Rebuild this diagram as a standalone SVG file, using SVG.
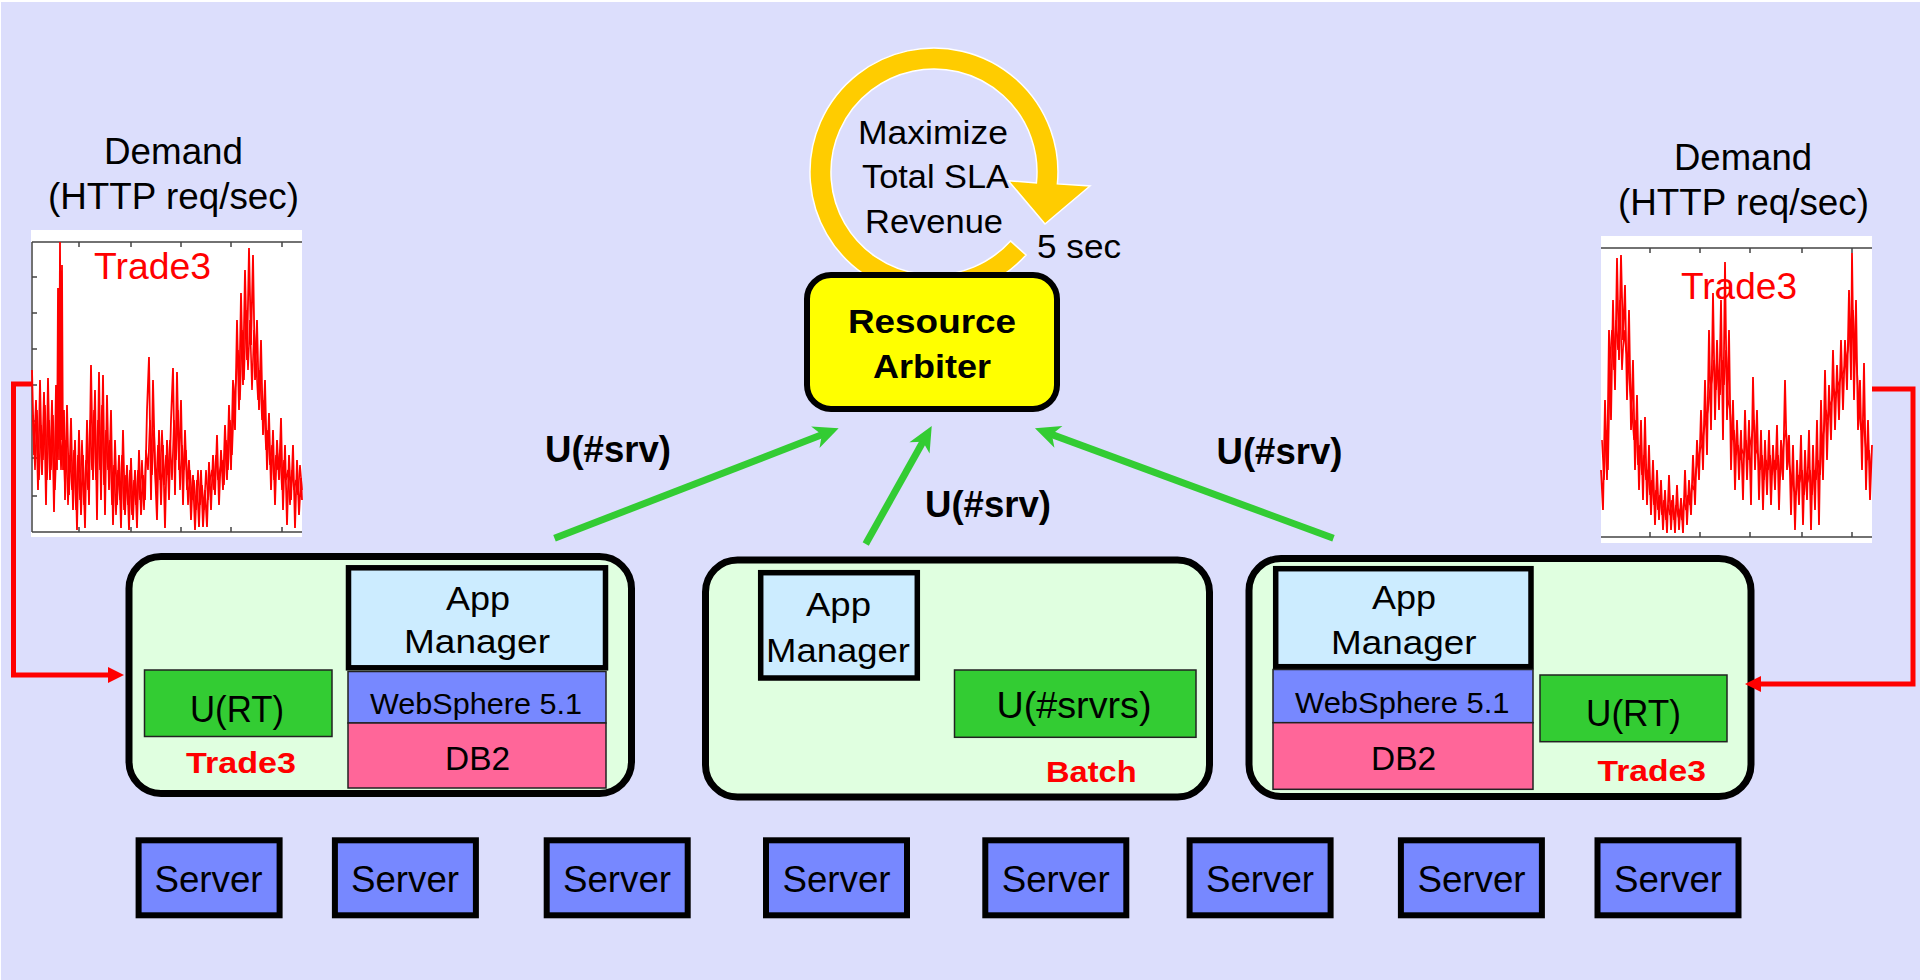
<svg xmlns="http://www.w3.org/2000/svg" width="1920" height="980" viewBox="0 0 1920 980">
  <style>
    .t { font-family: "Liberation Sans", Arial, sans-serif; fill: #000; }
    .b { font-weight: bold; }
    .red { fill: #FF0000; }
    .app { fill: #E0FFE0; stroke: #000; stroke-width: 7; }
    .mgr { fill: #CCECFF; stroke: #000; stroke-width: 5.5; }
    .ws { fill: #7788FF; stroke: #222; stroke-width: 1.5; }
    .db { fill: #FF6699; stroke: #222; stroke-width: 1.5; }
    .u { fill: #33CC33; stroke: #222; stroke-width: 1.5; }
    .srv { fill: #7788FF; stroke: #000; stroke-width: 6; }
    .plot { fill: #FFFFFF; }
    .axis { fill: none; stroke: #444; stroke-width: 1.5; }
    .data { fill: none; stroke: #FF0000; stroke-width: 1.8; stroke-linejoin: miter; }
    .data2 { fill: none; stroke: #FF0000; stroke-width: 1.6; stroke-linejoin: miter; }
    .feed { fill: none; stroke: #FF0000; stroke-width: 5; }
    .util { fill: none; stroke: #33CC33; stroke-width: 7; }
  </style>
  <defs>
    <marker id="greenHead" markerUnits="userSpaceOnUse" markerWidth="32" markerHeight="30" viewBox="-2 -14 32 28" refX="11" refY="0" orient="auto">
      <path d="M0,-11.5 L25,0 L0,11.5 L7,0 Z" fill="#33CC33"/>
    </marker>
    <marker id="redHead" markerUnits="userSpaceOnUse" markerWidth="20" markerHeight="20" viewBox="-2 -10 20 20" refX="8" refY="0" orient="auto">
      <path d="M0,-8 L16,0 L0,8 Z" fill="#FF0000"/>
    </marker>
  </defs>

  <!-- slide background -->
  <rect x="0" y="0" width="1920" height="980" fill="#FFFFFF"/>
  <rect x="1" y="2" width="1919" height="978" fill="#DCDEFC"/>

  <!-- demand chart, left application -->
  <g id="demand-left">
    <text class="t" x="104" y="164" font-size="36" textLength="139" lengthAdjust="spacingAndGlyphs">Demand</text>
    <text class="t" x="48" y="209" font-size="36" textLength="251" lengthAdjust="spacingAndGlyphs">(HTTP req/sec)</text>
    <rect class="plot" x="31" y="230" width="271" height="307"/>
    <path class="axis" d="M32,242 H302 M32,532 H302 M32,242 V532 M79,242 v5 M131,242 v5 M181,242 v5 M231,242 v5 M282,242 v5 M79,532 v-5 M131,532 v-5 M181,532 v-5 M231,532 v-5 M282,532 v-5 M32,277 h5 M32,313 h5 M32,349 h5 M32,385 h5 M32,421 h5 M32,458 h5 M32,496 h5"/>
    <polyline class="data" points="32,370 34,455 36,400 38,490 40,380 42,475 44,392 46,505 48,378 50,480 52,400 54,512 56,385 57,470 58,288 59,460 60,242 61,440 62,265 63,470 64,410 65,500 67,405 69,495 71,418 73,510 75,440 77,530 79,430 81,515 83,455 85,528 87,420 89,505 91,365 93,480 95,390 97,520 99,372 101,500 103,375 105,515 107,395 109,490 111,410 113,525 115,440 117,505 119,455 121,528 123,430 125,515 127,465 129,530 131,458 133,520 135,470 137,528 139,450 141,515 143,475 145,500 147,410 149,357 151,500 153,380 155,470 157,520 159,430 161,505 163,445 165,528 167,440 169,500 171,420 173,368 175,495 177,372 179,470 181,400 183,505 185,430 187,490 189,460 191,520 193,475 195,530 197,480 199,527 201,470 203,527 205,490 207,527 209,462 211,510 213,455 215,495 217,435 219,505 221,450 223,490 225,425 227,480 229,405 231,470 233,380 235,430 237,320 239,410 241,293 243,385 245,270 247,360 249,248 251,345 253,255 255,380 257,320 259,410 261,340 263,435 265,380 267,470 269,413 271,490 273,430 275,505 277,440 279,480 281,418 283,510 285,445 287,525 289,455 291,500 293,445 295,528 297,460 299,515 301,478 302,500"/>
    <polyline class="data2" points="33,415 35,470 37,410 39,480 41,425 43,460 45,405 47,480 49,420 51,470 53,415 55,490 57,430 59,395 61,470 63,420 65,490 66,440 68,505 70,455 72,490 74,450 76,510 78,455 80,500 82,440 84,505 86,460 88,490 90,420 92,470 94,410 96,480 98,420 100,470 102,405 104,485 106,430 108,470 110,440 112,505 114,465 116,515 118,470 120,500 122,455 124,510 126,475 128,505 130,470 132,515 134,480 136,505 138,470 140,500 142,460 144,510 146,450 148,470 150,420 152,475 154,430 156,490 158,445 160,480 162,430 164,485 166,455 168,475 170,440 172,480 174,420 176,460 178,410 180,490 182,445 184,470 186,450 188,505 190,470 192,500 194,480 196,510 198,470 200,505 202,485 204,510 206,470 208,500 210,480 212,470 214,490 216,455 218,480 220,470 222,460 224,485 226,440 228,470 230,420 232,455 234,400 236,380 238,350 240,400 242,330 244,380 246,310 248,370 250,320 252,390 254,330 256,360 258,400 260,370 262,420 264,400 266,450 268,430 270,465 272,445 274,480 276,455 278,470 280,450 282,490 284,460 286,480 288,470 290,505 292,470 294,490 296,480 298,495 300,465 302,490"/>
    <text class="t red" x="94" y="279" font-size="36" textLength="117" lengthAdjust="spacingAndGlyphs">Trade3</text>
  </g>

  <!-- demand chart, right application -->
  <g id="demand-right">
    <text class="t" x="1674" y="170" font-size="36" textLength="138" lengthAdjust="spacingAndGlyphs">Demand</text>
    <text class="t" x="1618" y="215" font-size="36" textLength="251" lengthAdjust="spacingAndGlyphs">(HTTP req/sec)</text>
    <rect class="plot" x="1601" y="236" width="271" height="307"/>
    <path class="axis" d="M1601,248 H1872 M1601,537 H1872 M1650,248 v5 M1700,248 v5 M1750,248 v5 M1802,248 v5 M1852,248 v5 M1650,537 v-5 M1700,537 v-5 M1750,537 v-5 M1802,537 v-5 M1852,537 v-5"/>
    <polyline class="data" points="1601,470 1603,510 1605,400 1607,480 1609,330 1611,420 1613,300 1615,390 1617,258 1619,360 1621,255 1623,340 1625,285 1627,400 1629,310 1631,430 1633,360 1635,470 1637,395 1639,490 1641,420 1643,500 1645,417 1647,505 1649,445 1651,515 1653,460 1655,525 1657,470 1659,520 1661,480 1663,530 1665,490 1667,533 1669,475 1671,530 1673,495 1675,533 1677,485 1679,530 1681,498 1683,533 1685,470 1687,525 1689,480 1691,515 1693,455 1695,505 1697,440 1699,480 1701,410 1703,470 1705,380 1707,455 1709,330 1711,430 1713,293 1715,420 1717,340 1719,410 1721,300 1723,440 1725,262 1727,420 1729,330 1731,470 1733,400 1735,490 1737,420 1739,480 1741,430 1743,500 1745,410 1747,480 1749,420 1751,505 1753,377 1755,470 1757,410 1759,500 1761,430 1763,510 1765,440 1767,495 1769,430 1771,505 1773,445 1775,490 1777,425 1779,510 1781,440 1783,480 1785,380 1787,470 1789,435 1791,515 1793,445 1795,530 1797,460 1799,505 1801,435 1803,525 1805,450 1807,500 1809,430 1811,530 1813,445 1815,510 1817,420 1819,525 1821,400 1823,480 1825,370 1827,460 1829,385 1831,440 1833,350 1835,430 1837,365 1839,420 1841,340 1843,410 1845,340 1847,390 1849,290 1851,380 1852,253 1854,400 1856,300 1858,430 1860,380 1862,470 1864,363 1866,490 1868,420 1870,500 1872,445"/>
    <polyline class="data2" points="1602,440 1604,480 1606,430 1608,470 1610,360 1612,330 1614,370 1616,320 1618,350 1620,300 1622,370 1624,330 1626,350 1628,360 1630,390 1632,410 1634,440 1636,420 1638,465 1640,445 1642,475 1644,455 1646,480 1648,470 1650,495 1652,480 1654,505 1656,490 1658,510 1660,495 1662,515 1664,500 1666,520 1668,505 1670,515 1672,500 1674,520 1676,505 1678,515 1680,510 1682,520 1684,500 1686,510 1688,495 1690,505 1692,485 1694,490 1696,470 1698,460 1700,450 1702,445 1704,430 1706,420 1708,410 1710,390 1712,380 1714,360 1716,390 1718,370 1720,395 1722,360 1724,385 1726,350 1728,400 1730,410 1732,440 1734,430 1736,455 1738,445 1740,460 1742,450 1744,455 1746,440 1748,460 1750,445 1752,435 1754,420 1756,450 1758,455 1760,470 1762,455 1764,480 1766,460 1768,470 1770,455 1772,475 1774,460 1776,470 1778,455 1780,480 1782,460 1784,440 1786,430 1788,455 1790,470 1792,480 1794,490 1796,495 1798,475 1800,480 1802,470 1804,495 1806,475 1808,480 1810,470 1812,495 1814,470 1816,480 1818,460 1820,475 1822,440 1824,430 1826,410 1828,420 1830,405 1832,400 1834,390 1836,395 1838,385 1840,380 1842,375 1844,370 1846,360 1848,350 1850,330 1853,310 1855,350 1857,370 1859,410 1861,430 1863,420 1865,440 1867,460 1869,450 1871,470"/>
    <text class="t red" x="1681" y="299" font-size="36" textLength="116" lengthAdjust="spacingAndGlyphs">Trade3</text>
  </g>

  <!-- control loop around the arbiter -->
  <g id="control-loop">
    <path d="M1026.1,255 A124,124 0 1 1 1057.4,183.9 L1090,186 L1045,224 L1008.3,180.7 L1036.4,182.9 A103,103 0 1 0 1010.5,240.9 Z" fill="#FFCC00" stroke="#FFFFFF" stroke-width="1.5" stroke-linejoin="miter"/>
    <text class="t" x="858" y="144" font-size="34" textLength="150" lengthAdjust="spacingAndGlyphs">Maximize</text>
    <text class="t" x="862" y="188" font-size="34" textLength="147" lengthAdjust="spacingAndGlyphs">Total SLA</text>
    <text class="t" x="865" y="233" font-size="34" textLength="138" lengthAdjust="spacingAndGlyphs">Revenue</text>
    <text class="t" x="1037" y="258" font-size="34" textLength="84" lengthAdjust="spacingAndGlyphs">5 sec</text>
  </g>

  <!-- resource arbiter -->
  <g id="resource-arbiter">
    <rect x="807" y="275" width="250" height="134" rx="24" fill="#FFFF00" stroke="#000" stroke-width="6"/>
    <text class="t b" x="848" y="333" font-size="33" textLength="168" lengthAdjust="spacingAndGlyphs">Resource</text>
    <text class="t b" x="873" y="378" font-size="33" textLength="118" lengthAdjust="spacingAndGlyphs">Arbiter</text>
  </g>

  <!-- Trade3 application environment (left) -->
  <g id="app-trade3-left">
    <rect class="app" x="129" y="556.5" width="502.5" height="237" rx="32"/>
    <rect class="mgr" x="348.5" y="567.8" width="257" height="100"/>
    <text class="t" x="446" y="610" font-size="34" textLength="64" lengthAdjust="spacingAndGlyphs">App</text>
    <text class="t" x="404" y="653" font-size="34" textLength="146" lengthAdjust="spacingAndGlyphs">Manager</text>
    <rect class="ws" x="348" y="671.5" width="258" height="51.5"/>
    <text class="t" x="370" y="714" font-size="29" textLength="212" lengthAdjust="spacingAndGlyphs">WebSphere 5.1</text>
    <rect class="db" x="348" y="723" width="258" height="65"/>
    <text class="t" x="445" y="770" font-size="34" textLength="65" lengthAdjust="spacingAndGlyphs">DB2</text>
    <rect class="u" x="144.5" y="670" width="187.5" height="66.5"/>
    <text class="t" x="190" y="722" font-size="36" textLength="94" lengthAdjust="spacingAndGlyphs">U(RT)</text>
    <text class="t b red" x="186" y="773" font-size="30" textLength="110" lengthAdjust="spacingAndGlyphs">Trade3</text>
  </g>

  <!-- Batch application environment (middle) -->
  <g id="app-batch">
    <rect class="app" x="705.5" y="560" width="504" height="237" rx="32"/>
    <rect class="mgr" x="760.7" y="572.7" width="156.6" height="105.3"/>
    <text class="t" x="806" y="616" font-size="34" textLength="65" lengthAdjust="spacingAndGlyphs">App</text>
    <text class="t" x="766" y="661.5" font-size="34" textLength="144" lengthAdjust="spacingAndGlyphs">Manager</text>
    <rect class="u" x="954.5" y="670" width="241.5" height="67.3"/>
    <text class="t" x="996.5" y="718" font-size="36" textLength="155" lengthAdjust="spacingAndGlyphs">U(#srvrs)</text>
    <text class="t b red" x="1046" y="782" font-size="30" textLength="90.6" lengthAdjust="spacingAndGlyphs">Batch</text>
  </g>

  <!-- Trade3 application environment (right) -->
  <g id="app-trade3-right">
    <rect class="app" x="1249" y="558.5" width="502" height="238" rx="32"/>
    <rect class="mgr" x="1275.7" y="568.7" width="255.3" height="98"/>
    <text class="t" x="1372" y="609" font-size="34" textLength="64" lengthAdjust="spacingAndGlyphs">App</text>
    <text class="t" x="1331" y="654" font-size="34" textLength="145.5" lengthAdjust="spacingAndGlyphs">Manager</text>
    <rect class="ws" x="1273" y="669.5" width="260" height="53.2"/>
    <text class="t" x="1295" y="713" font-size="29" textLength="214.5" lengthAdjust="spacingAndGlyphs">WebSphere 5.1</text>
    <rect class="db" x="1273" y="722.7" width="260" height="66.6"/>
    <text class="t" x="1371" y="770" font-size="34" textLength="65" lengthAdjust="spacingAndGlyphs">DB2</text>
    <rect class="u" x="1540" y="675" width="187" height="66.7"/>
    <text class="t" x="1586" y="726" font-size="36" textLength="95" lengthAdjust="spacingAndGlyphs">U(RT)</text>
    <text class="t b red" x="1597.5" y="780.5" font-size="30" textLength="108.5" lengthAdjust="spacingAndGlyphs">Trade3</text>
  </g>

  <!-- server pool -->
  <g id="server-1"><rect class="srv" x="138.6" y="840.3" width="141" height="75"/><text class="t" x="154.5" y="891.7" font-size="37" textLength="108" lengthAdjust="spacingAndGlyphs">Server</text></g>
  <g id="server-2"><rect class="srv" x="334.9" y="840.3" width="141" height="75"/><text class="t" x="351" y="891.7" font-size="37" textLength="108" lengthAdjust="spacingAndGlyphs">Server</text></g>
  <g id="server-3"><rect class="srv" x="546.7" y="840.3" width="141" height="75"/><text class="t" x="563" y="891.7" font-size="37" textLength="108" lengthAdjust="spacingAndGlyphs">Server</text></g>
  <g id="server-4"><rect class="srv" x="766" y="840.3" width="141" height="75"/><text class="t" x="782.5" y="891.7" font-size="37" textLength="108" lengthAdjust="spacingAndGlyphs">Server</text></g>
  <g id="server-5"><rect class="srv" x="985.3" y="840.3" width="141" height="75"/><text class="t" x="1001.7" y="891.7" font-size="37" textLength="108" lengthAdjust="spacingAndGlyphs">Server</text></g>
  <g id="server-6"><rect class="srv" x="1189.6" y="840.3" width="141" height="75"/><text class="t" x="1206" y="891.7" font-size="37" textLength="108" lengthAdjust="spacingAndGlyphs">Server</text></g>
  <g id="server-7"><rect class="srv" x="1400.9" y="840.3" width="141" height="75"/><text class="t" x="1417.5" y="891.7" font-size="37" textLength="108" lengthAdjust="spacingAndGlyphs">Server</text></g>
  <g id="server-8"><rect class="srv" x="1597.5" y="840.3" width="141" height="75"/><text class="t" x="1614" y="891.7" font-size="37" textLength="108" lengthAdjust="spacingAndGlyphs">Server</text></g>

  <!-- connectors: demand feeds and utility reports -->
  <g id="connectors">
    <path class="feed" d="M32,384 H13.5 V675 H116" marker-end="url(#redHead)"/>
    <path class="feed" d="M1872,389 H1913 V684 H1753" marker-end="url(#redHead)"/>
    <line class="util" x1="554.5" y1="538.3" x2="825.6" y2="433.3" marker-end="url(#greenHead)"/>
    <line class="util" x1="865.7" y1="544" x2="924.9" y2="438.2" marker-end="url(#greenHead)"/>
    <line class="util" x1="1333.5" y1="538.3" x2="1048.1" y2="433.1" marker-end="url(#greenHead)"/>
    <text class="t b" x="545" y="462" font-size="37" textLength="126" lengthAdjust="spacingAndGlyphs">U(#srv)</text>
    <text class="t b" x="925" y="516.5" font-size="37" textLength="126" lengthAdjust="spacingAndGlyphs">U(#srv)</text>
    <text class="t b" x="1216.5" y="464" font-size="37" textLength="126" lengthAdjust="spacingAndGlyphs">U(#srv)</text>
  </g>
</svg>
